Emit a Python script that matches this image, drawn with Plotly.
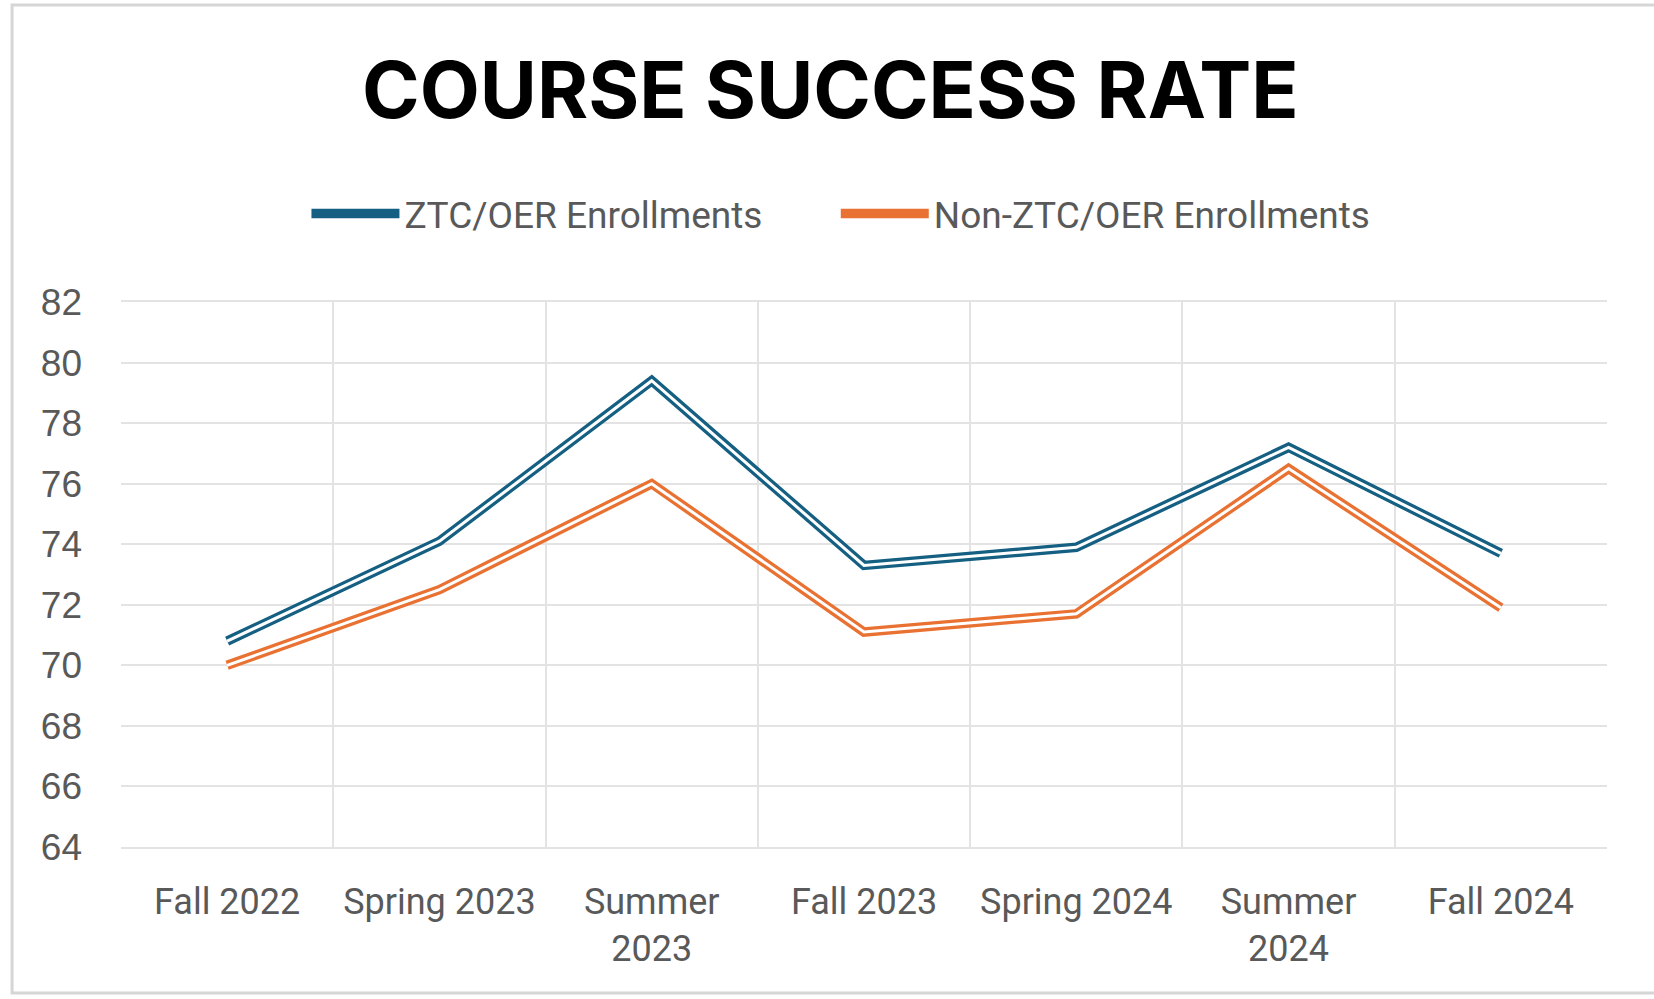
import plotly.graph_objects as go

categories = ["Fall 2022", "Spring 2023", "Summer<br>2023", "Fall 2023",
              "Spring 2024", "Summer<br>2024", "Fall 2024"]
ztc_values = [70.8, 74.1, 79.4, 73.3, 73.9, 77.2, 73.7]
non_ztc_values = [70.0, 72.5, 76.0, 71.1, 71.7, 76.5, 71.9]
y_ticks = [64, 66, 68, 70, 72, 74, 76, 78, 80, 82]

BLUE = "#156082"
ORANGE = "#E97132"

fig = go.Figure()
for name, vals, col, lg in [("ZTC/OER Enrollments", ztc_values, BLUE, "legend"),
                            ("Non-ZTC/OER Enrollments", non_ztc_values, ORANGE, "legend2")]:
    fig.add_trace(go.Scatter(x=categories, y=vals, mode="lines", name=name, legend=lg,
                             line=dict(color=col, width=9.5), hoverinfo="x+y"))
    fig.add_trace(go.Scatter(x=categories, y=vals, mode="lines", showlegend=False,
                             line=dict(color="white", width=3), hoverinfo="skip"))

legend_common = dict(orientation="h", y=1.1615, yanchor="middle", xanchor="left",
                     font=dict(family="Roboto", size=37, color="#595959"),
                     itemwidth=88, bgcolor="rgba(0,0,0,0)")

fig.update_layout(
    width=1654, height=999,
    margin=dict(l=121, r=47, t=302, b=152, autoexpand=False),
    paper_bgcolor="white", plot_bgcolor="white",
    title=dict(text="COURSE SUCCESS RATE", x=0.502, xanchor="center",
               y=0.909, yanchor="middle",
               font=dict(family="Inter", size=78, color="black", weight="bold")),
    legend=dict(x=0.1248, **legend_common),
    legend2=dict(x=0.481, **legend_common),
    showlegend=True,
    xaxis=dict(type="category", tickson="boundaries", range=[-0.5, 6.5],
               showgrid=True, gridcolor="#e3e3e3", gridwidth=1.5, ticks="",
               showline=True, linecolor="#e3e3e3", linewidth=1.5, mirror=True,
               tickfont=dict(family="Roboto", size=36, color="#595959"),
               ticklabelstandoff=22, fixedrange=True, automargin=False),
    yaxis=dict(range=[64, 82], tickvals=y_ticks, showgrid=True,
               gridcolor="#e3e3e3", gridwidth=1.5, zeroline=False,
               showline=False,
               tickfont=dict(family="Liberation Sans", size=37, color="#595959"),
               ticklabelstandoff=38, fixedrange=True, automargin=False),
    shapes=[dict(type="rect", xref="paper", yref="paper",
                 x0=-0.0733, x1=1.1, y0=-0.268, y1=1.545,
                 line=dict(color="#d6d6d6", width=3), layer="below")],
)

fig.write_html("out.html", config={"displayModeBar": False},
               post_script="document.body.style.margin='0';document.body.style.padding='0';")
